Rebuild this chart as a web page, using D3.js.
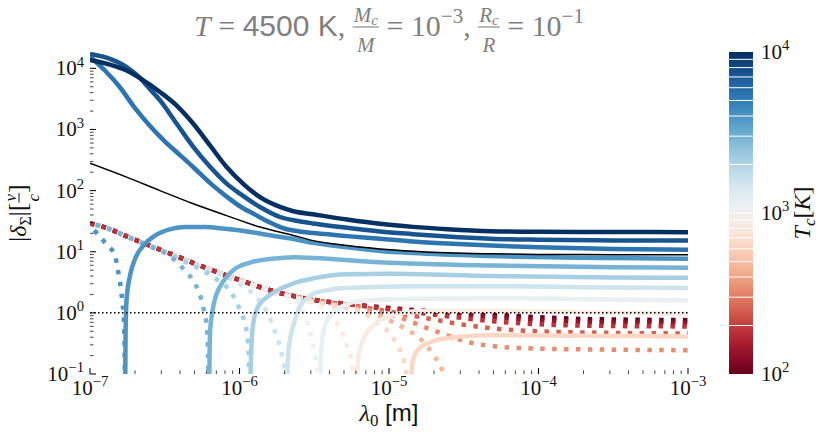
<!DOCTYPE html>
<html lang="en">
<head>
<meta charset="UTF-8">
<title>delta sigma vs lambda0</title>
<script src="https://d3js.org/d3.v7.min.js"></script>
<style>
  body { margin: 0; background: #fff; }
  svg { display: block; }
  svg text { white-space: pre; }
  .serif { font-family: "Liberation Serif", "DejaVu Serif", serif; }
  .sans { font-family: "Liberation Sans", "DejaVu Sans", sans-serif; }
</style>
</head>
<body>
<div id="chart"></div>
<script>
// ---------------- data ----------------
// each curve: [log10(lambda0 / m), delta]; negative delta is drawn dotted (|delta| plotted)
const tcValues = [100, 136, 185, 251, 341, 464, 631, 858, 1166, 1585, 2154, 2929, 3981, 5412, 7356, 10000];

const tc100 = [[-7,-29],[-6.9,-25],[-6.75,-17.6],[-6.5,-10.1],[-6.25,-5.75],[-6,-3.45],[-5.75,-2.18],[-5.5,-1.63],[-5.25,-1.38],[-5,-1.2],[-4.75,-1.08],[-4.5,-1.0],[-4.25,-0.92],[-4,-0.85],[-3.75,-0.8],[-3.5,-0.78],[-3,-0.76]];
const tc136 = [[-7,-29],[-6.9,-25],[-6.75,-17.6],[-6.5,-10.1],[-6.25,-5.75],[-6,-3.45],[-5.75,-2.18],[-5.5,-1.63],[-5.25,-1.38],[-5,-1.19],[-4.75,-1.05],[-4.5,-0.94],[-4.25,-0.83],[-4,-0.76],[-3.75,-0.72],[-3.5,-0.7],[-3,-0.69]];
const tc185 = [[-7,-29],[-6.9,-25],[-6.75,-17.6],[-6.5,-10.1],[-6.25,-5.75],[-6,-3.45],[-5.75,-2.18],[-5.5,-1.63],[-5.25,-1.37],[-5,-1.14],[-4.75,-0.97],[-4.5,-0.82],[-4.25,-0.71],[-4,-0.65],[-3.5,-0.61],[-3,-0.6]];
const tc251 = [[-7,-29],[-6.9,-25],[-6.75,-17.6],[-6.5,-10.1],[-6.25,-5.75],[-6,-3.45],[-5.75,-2.18],[-5.5,-1.62],[-5.25,-1.33],[-5,-1.05],[-4.75,-0.82],[-4.5,-0.64],[-4.25,-0.54],[-4,-0.5],[-3.5,-0.47],[-3,-0.46]];
const tc341 = [[-7,-29],[-6.9,-25],[-6.75,-17.6],[-6.5,-10.1],[-6.25,-5.75],[-6,-3.45],[-5.75,-2.17],[-5.5,-1.58],[-5.25,-1.25],[-5,-0.95],[-4.9,-0.8],[-4.79,-0.62],[-4.61,-0.43],[-4.44,-0.32],[-4.3,-0.285],[-4,-0.26],[-3.5,-0.25],[-3,-0.245]];
const tc464 = [[-7,-29],[-6.9,-25],[-6.75,-17.6],[-6.5,-10.1],[-6.25,-5.75],[-6,-3.45],[-5.75,-2.15],[-5.5,-1.55],[-5.25,-1.18],[-5.1,-0.95],[-4.97,-0.7],[-4.88,-0.53],[-4.79,-0.375],[-4.7,-0.2],[-4.64,-0.107],[-4.615,-0.04],[-4.6,0.02],[-4.4,0.045],[-4,0.055],[-3,0.05]];
const tc631 = [[-7,-29],[-6.9,-25],[-6.75,-17.6],[-6.5,-10.1],[-6.25,-5.75],[-6,-3.4],[-5.75,-2.1],[-5.5,-1.5],[-5.35,-1.3],[-5.19,-1.05],[-5.08,-0.7],[-4.97,-0.38],[-4.92,-0.22],[-4.885,-0.1],[-4.866,-0.03],[-4.86,0.03],[-4.85,0.1],[-4.837,0.18],[-4.8,0.26],[-4.726,0.33],[-4.57,0.4],[-4.32,0.43],[-3.5,0.42],[-3,0.41]];
const tc858 = [[-7,-29],[-6.9,-25],[-6.75,-17.6],[-6.5,-10.1],[-6.25,-5.7],[-6,-3.35],[-5.75,-2.05],[-5.6,-1.7],[-5.46,-1.3],[-5.4,-1.05],[-5.35,-0.72],[-5.31,-0.45],[-5.283,-0.3],[-5.25,-0.15],[-5.23,-0.04],[-5.222,0.03],[-5.21,0.15],[-5.19,0.28],[-5.17,0.375],[-5.08,0.7],[-4.95,0.96],[-4.73,1.08],[-4.32,1.08],[-3.5,1.0],[-3,0.96]];
const tc1166 = [[-7,-29],[-6.9,-25],[-6.75,-17.6],[-6.5,-10.0],[-6.25,-5.6],[-6,-3.3],[-5.8,-2.4],[-5.7,-2.0],[-5.617,-1.6],[-5.58,-1.15],[-5.55,-0.72],[-5.52,-0.4],[-5.495,-0.2],[-5.475,-0.08],[-5.468,-0.03],[-5.463,0.05],[-5.455,0.2],[-5.44,0.48],[-5.41,0.78],[-5.373,1.03],[-5.3,1.32],[-5.24,1.5],[-5.1,1.63],[-4.95,1.69],[-4.32,1.74],[-3.5,1.65],[-3,1.59]];
const tc1585 = [[-7,-29],[-6.9,-25],[-6.75,-17.5],[-6.5,-10.0],[-6.25,-5.6],[-6.1,-4.0],[-6,-3.0],[-5.9,-1.95],[-5.84,-1.3],[-5.8,-0.85],[-5.76,-0.47],[-5.72,-0.23],[-5.695,-0.1],[-5.688,-0.03],[-5.684,0.05],[-5.675,0.2],[-5.66,0.4],[-5.64,0.62],[-5.595,1.3],[-5.55,1.7],[-5.506,2.05],[-5.4,2.38],[-5.28,2.54],[-4.84,2.72],[-4.32,2.72],[-3.5,2.6],[-3,2.54]];
const tc2154 = [[-7,-29],[-6.9,-25],[-6.75,-17.5],[-6.5,-9.9],[-6.35,-6.6],[-6.25,-5.0],[-6.15,-3.5],[-6.075,-2.47],[-6.03,-1.69],[-6.0,-1.16],[-5.97,-0.75],[-5.95,-0.45],[-5.94,-0.25],[-5.934,-0.05],[-5.929,0.05],[-5.92,0.3],[-5.905,0.75],[-5.88,1.2],[-5.83,1.7],[-5.75,2.3],[-5.63,3.1],[-5.5,3.7],[-5.28,4.3],[-5,4.35],[-4.32,4.0],[-3.5,3.8],[-3,3.74]];
const tc2929 = [[-7,-29],[-6.9,-25],[-6.75,-17.5],[-6.6,-12.2],[-6.5,-9.6],[-6.43,-7.2],[-6.365,-4.9],[-6.31,-3.38],[-6.276,-2.32],[-6.253,-1.59],[-6.236,-1.03],[-6.22,-0.62],[-6.212,-0.3],[-6.207,-0.05],[-6.203,0.05],[-6.197,0.48],[-6.18,1.1],[-6.164,1.69],[-6.13,2.7],[-6.097,3.6],[-6.03,5.25],[-5.92,6.75],[-5.785,7.65],[-5.63,8.15],[-5.5,7.9],[-5.06,6.75],[-4.32,5.95],[-3.5,5.6],[-3,5.45]];
const tc3981 = [[-7,-26],[-6.944,-18.9],[-6.888,-13],[-6.833,-8.7],[-6.817,-5.6],[-6.804,-3.7],[-6.793,-2.47],[-6.784,-1.59],[-6.777,-1.03],[-6.771,-0.55],[-6.768,-0.2],[-6.766,-0.05],[-6.765,0.05],[-6.762,0.48],[-6.755,1.69],[-6.732,4.1],[-6.699,7.6],[-6.643,12.6],[-6.565,18.4],[-6.454,23.7],[-6.365,25.3],[-6.23,25.3],[-6.097,23.7],[-5.918,20.9],[-5.785,18.4],[-5.63,16.0],[-5.508,14.0],[-5.28,11.8],[-5.06,10.3],[-4.84,9.5],[-4.32,8.5],[-3.5,7.9],[-3,7.65]];
const tc5412 = [[-7,15500],[-6.9,9200],[-6.8,4900],[-6.7,2250],[-6.6,1150],[-6.5,640],[-6.4,385],[-6.3,230],[-6.2,135],[-6.1,85],[-6,56],[-5.9,41],[-5.8,30.5],[-5.7,24],[-5.6,21.5],[-5.5,20.2],[-5.28,18],[-5.06,16.3],[-4.84,14.7],[-4.61,13.6],[-4.32,12.6],[-4,11.8],[-3.5,11.1],[-3,10.8]];
const tc7356 = [[-7,17200],[-6.866,14300],[-6.755,10500],[-6.666,7000],[-6.6,4600],[-6.532,3000],[-6.42,1240],[-6.309,520],[-6.197,245],[-6.086,130],[-6,90],[-5.863,54],[-5.729,37],[-5.6,31.5],[-5.508,29],[-5.281,24.6],[-5.06,21.4],[-4.84,19.4],[-4.61,17.7],[-4.32,16.3],[-4,15.7],[-3.5,15.3],[-3,15.2]];
const tc10000 = [[-7,13700],[-6.866,11500],[-6.755,9200],[-6.666,6900],[-6.532,4100],[-6.42,2460],[-6.309,1240],[-6.197,548],[-6.086,243],[-5.975,129],[-5.863,78],[-5.729,54],[-5.64,46],[-5.508,41],[-5.281,33.7],[-5.06,28.6],[-4.84,25.5],[-4.61,23.4],[-4.32,21.7],[-4,21.2],[-3.5,21],[-3,20.9]];

const curves = [tc100, tc136, tc185, tc251, tc341, tc464, tc631, tc858, tc1166, tc1585, tc2154, tc2929, tc3981, tc5412, tc7356, tc10000];

const blackLine = [[-7,280],[-6.755,166],[-6.532,100],[-6.309,60.8],[-6.086,39],[-5.863,25.3],[-5.64,18.5],[-5.508,15.2],[-5.281,12.6],[-5.06,11.1],[-4.839,10.2],[-4.612,9.6],[-4.324,9.25],[-4,9.05],[-3.5,8.95],[-3,8.9]];
const unityLevel = 1;

const xTickExps = [-7, -6, -5, -4, -3];
const yTickExps = [-1, 0, 1, 2, 3, 4];
const cbarTickExps = [2, 3, 4];
const cbarEdges = [200, 300, 400, 500, 600, 700, 800, 900, 1000, 2000, 3000, 4000, 5000, 6000, 7000, 8000, 9000];

// ---------------- setup ----------------
const W = 830, H = 441;
const plot = { left: 90, right: 688, top: 52, bottom: 374 };
const cbar = { left: 729, right: 753 };

const svg = d3.select("#chart").append("svg").attr("width", W).attr("height", H);
const defs = svg.append("defs");

const x = d3.scaleLog().domain([1e-7, 1e-3]).range([plot.left, plot.right]);
const y = d3.scaleLog().domain([0.1, 18500]).range([plot.bottom, plot.top]);
const cScale = d3.scaleLog().domain([100, 10000]).range([plot.bottom, plot.top]);
const tcColor = tc => d3.interpolateRdBu((Math.log10(tc) - 2) / 2);

defs.append("clipPath").attr("id", "clip").append("rect")
  .attr("x", plot.left).attr("y", plot.top)
  .attr("width", plot.right - plot.left).attr("height", plot.bottom - plot.top);

// ---------------- curves ----------------
function splitRuns(pts) {
  const runs = [];
  let cur = null;
  pts.forEach(p => {
    const s = p[1] < 0 ? -1 : 1;
    if (!cur || cur.sign !== s) { cur = { sign: s, pts: [] }; runs.push(cur); }
    cur.pts.push(p);
  });
  return runs;
}

const line = d3.line()
  .x(d => x(Math.pow(10, d[0])))
  .y(d => y(Math.abs(d[1])))
  .curve(d3.curveMonotoneX);

const gLines = svg.append("g").attr("clip-path", "url(#clip)");

curves.forEach((pts, i) => {
  const tc = tcValues[i];
  const col = tcColor(tc);
  splitRuns(pts).forEach(run => {
    const p = gLines.append("path")
      .attr("d", line(run.pts))
      .attr("fill", "none")
      .attr("stroke", col)
      .attr("stroke-width", 4.5);
    if (run.sign < 0) {
      // the coolest companions share one dash phase, the rest sit in the gaps
      p.attr("stroke-dasharray", "4.5,7.4").attr("stroke-dashoffset", tc <= 185 ? 0 : 5.95);
    } else {
      p.attr("stroke-linejoin", "round");
    }
  });
});

gLines.append("path")
  .attr("d", line(blackLine))
  .attr("fill", "none").attr("stroke", "#000").attr("stroke-width", 1.5);

gLines.append("line")
  .attr("x1", plot.left).attr("x2", plot.right)
  .attr("y1", y(unityLevel)).attr("y2", y(unityLevel))
  .attr("stroke", "#000").attr("stroke-width", 1.5).attr("stroke-dasharray", "1.5,2.5");

// ---------------- axes ----------------
function powLabel(g, px, py, exp, anchor, size) {
  const t = g.append("text")
    .attr("x", px).attr("y", py)
    .attr("text-anchor", anchor)
    .attr("class", "serif")
    .attr("fill", "#111")
    .style("font-size", size + "px");
  t.append("tspan").text("10");
  t.append("tspan")
    .attr("dy", -0.42 * size)
    .style("font-size", (size * 0.7) + "px")
    .text(exp < 0 ? "\u2212" + (-exp) : String(exp));
}

const gAxes = svg.append("g");

// y ticks (inward)
for (let k = -1; k <= 4; k++) {
  for (let m = 1; m <= 9; m++) {
    const v = m * Math.pow(10, k);
    if (v > 18500) continue;
    const len = m === 1 ? 6 : 3.5;
    gAxes.append("line")
      .attr("x1", plot.left).attr("x2", plot.left + len)
      .attr("y1", y(v)).attr("y2", y(v))
      .attr("stroke", "#111").attr("stroke-width", m === 1 ? 1.1 : 0.8);
  }
}
yTickExps.forEach(e => powLabel(gAxes, plot.left - 6, y(Math.pow(10, e)) + 7, e, "end", 21));

// x ticks (inward)
for (let k = -7; k <= -3; k++) {
  for (let m = 1; m <= 9; m++) {
    const v = m * Math.pow(10, k);
    if (v > 1e-3 * 1.0001) continue;
    const len = m === 1 ? 6 : 3.5;
    gAxes.append("line")
      .attr("x1", x(v)).attr("x2", x(v))
      .attr("y1", plot.bottom).attr("y2", plot.bottom - len)
      .attr("stroke", "#111").attr("stroke-width", m === 1 ? 1.1 : 0.8);
  }
}
xTickExps.forEach(e => powLabel(gAxes, x(Math.pow(10, e)), plot.bottom + 21, e, "middle", 21));

// ---------------- rich text helper ----------------
function runText(g, px, r) {
  const t = g.append("text")
    .attr("x", px).attr("y", r.dy || 0)
    .attr("class", r.f === "sans" ? "sans" : "serif")
    .style("font-size", r.s + "px")
    .style("font-style", r.it ? "italic" : "normal")
    .text(r.t);
  return t.node().getComputedTextLength();
}

function layout(g, runs, color) {
  let px = 0;
  runs.forEach(r => {
    if (r.frac) {
      const gn = g.append("g"), gd = g.append("g");
      const wn = layout(gn, r.frac[0], color), wd = layout(gd, r.frac[1], color);
      const w = Math.max(wn, wd) + 2 * r.pad;
      gn.attr("transform", `translate(${px + (w - wn) / 2},${-r.num})`);
      gd.attr("transform", `translate(${px + (w - wd) / 2},${r.den})`);
      g.append("line")
        .attr("x1", px).attr("x2", px + w)
        .attr("y1", -r.bar).attr("y2", -r.bar)
        .attr("stroke", color).attr("stroke-width", r.lw);
      px += w;
    } else {
      px += runText(g, px, r);
    }
  });
  return px;
}

// ---------------- title ----------------
const TS = 30;
const titleRuns = [
  { t: "T", it: true, s: TS },
  { t: " = ", s: TS },
  { t: "4500 K", f: "sans", s: TS },
  { t: ", ", s: TS },
  { frac: [[{ t: "M", it: true, s: 21 }, { t: "c", it: true, s: 15, dy: 3 }], [{ t: "M", it: true, s: 21 }]], num: 14, den: 16, bar: 9, pad: 1, lw: 1.1 },
  { t: " = 10", s: TS },
  { t: "\u22123", s: 21, dy: -13 },
  { t: ", ", s: TS },
  { frac: [[{ t: "R", it: true, s: 21 }, { t: "c", it: true, s: 15, dy: 3 }], [{ t: "R", it: true, s: 21 }]], num: 14, den: 16, bar: 9, pad: 1, lw: 1.1 },
  { t: " = 10", s: TS },
  { t: "\u22121", s: 21, dy: -13 }
];
const gTitle = svg.append("g").attr("fill", "#808080");
const tw = layout(gTitle, titleRuns, "#808080");
gTitle.attr("transform", `translate(${(plot.left + plot.right) / 2 - tw / 2},36)`);

// ---------------- axis labels ----------------
const gX = svg.append("g").attr("fill", "#111");
const xw = layout(gX, [
  { t: "\u03bb", it: true, s: 24 },
  { t: "0", s: 17, dy: 5 },
  { t: " [m]", f: "sans", s: 24 }
], "#111");
gX.attr("transform", `translate(${(plot.left + plot.right) / 2 - xw / 2},421)`);

const gY = svg.append("g").attr("fill", "#111");
const yw = layout(gY, [
  { t: "|", s: 25 },
  { t: "\u03b4", it: true, s: 24 },
  { t: "\u03a3", s: 16, dy: 5 },
  { t: "|", s: 25 },
  { t: "[", s: 26 },
  { frac: [[{ t: "v", it: true, s: 17 }], [{ t: "c", it: true, s: 17 }]], num: 10, den: 13, bar: 7, pad: 1, lw: 1 },
  { t: "]", s: 26 }
], "#111");
gY.attr("transform", `translate(26,${(plot.top + plot.bottom) / 2 + yw / 2}) rotate(-90)`);

// ---------------- colorbar ----------------
const grad = defs.append("linearGradient").attr("id", "cbgrad")
  .attr("x1", 0).attr("y1", 1).attr("x2", 0).attr("y2", 0);
d3.range(0, 1.0001, 0.02).forEach(t => {
  grad.append("stop").attr("offset", t).attr("stop-color", d3.interpolateRdBu(t));
});
const gCbar = svg.append("g");
gCbar.append("rect")
  .attr("x", cbar.left).attr("y", plot.top)
  .attr("width", cbar.right - cbar.left).attr("height", plot.bottom - plot.top)
  .attr("fill", "url(#cbgrad)");
gCbar.selectAll(".edge").data(cbarEdges).enter().append("line")
  .attr("class", "edge")
  .attr("x1", cbar.left).attr("x2", cbar.right)
  .attr("y1", d => cScale(d)).attr("y2", d => cScale(d))
  .attr("stroke", "#fff").attr("stroke-width", 1);
cbarTickExps.forEach(e => powLabel(gCbar, cbar.right + 8, cScale(Math.pow(10, e)) + 7, e, "start", 21));

const gC = svg.append("g").attr("fill", "#111");
const cw = layout(gC, [
  { t: "T", it: true, s: 24 },
  { t: "c", it: true, s: 17, dy: 5 },
  { t: "[", s: 24 },
  { t: "K", it: true, s: 24 },
  { t: "]", s: 24 }
], "#111");
gC.attr("transform", `translate(810,${(plot.top + plot.bottom) / 2 + cw / 2}) rotate(-90)`);
</script>
</body>
</html>
